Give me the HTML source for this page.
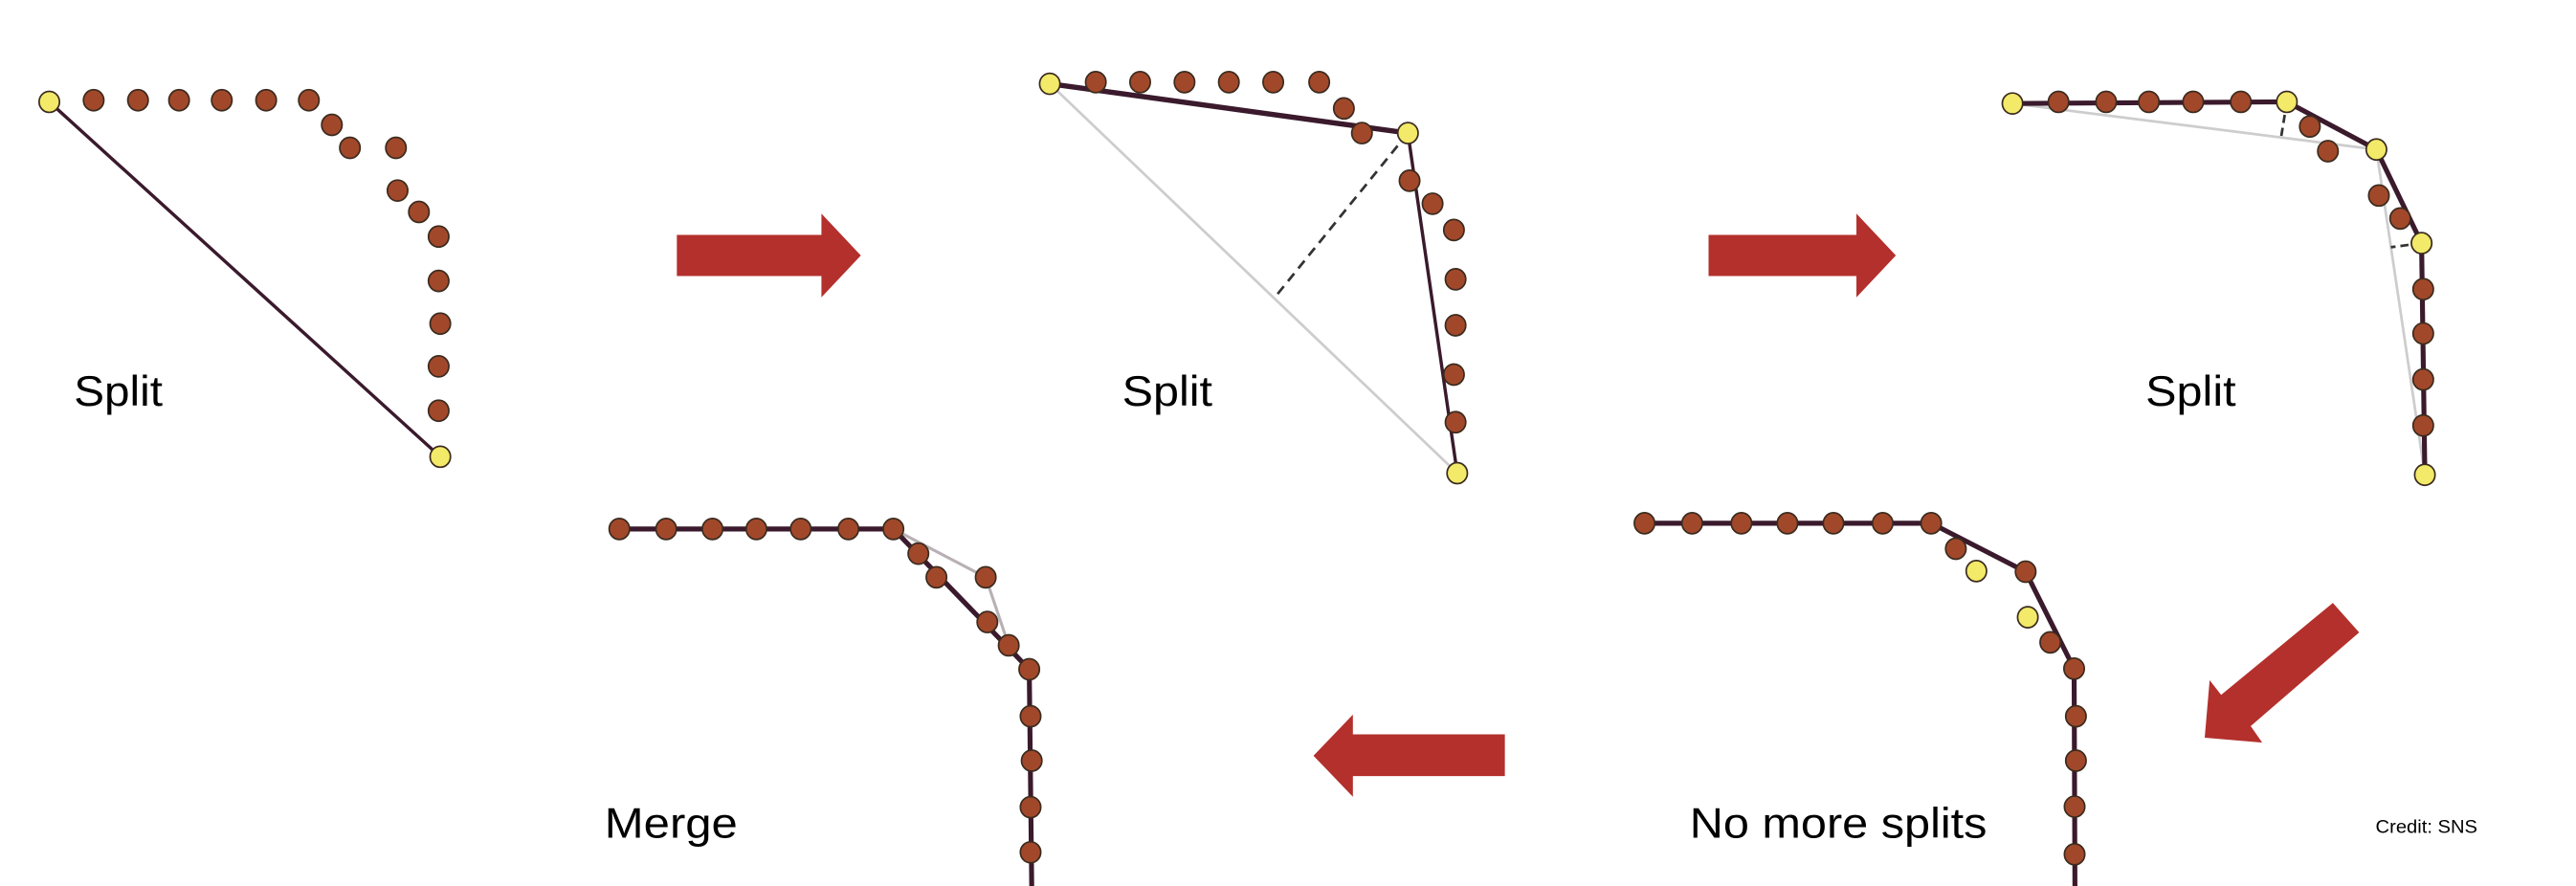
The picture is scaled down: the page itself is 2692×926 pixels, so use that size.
<!DOCTYPE html>
<html><head><meta charset="utf-8"><style>
html,body{margin:0;padding:0;background:#fff;}
svg{display:block;}
text{font-family:"Liberation Sans",sans-serif;fill:#000;}
</style></head>
<body>
<svg id="fig" width="2692" height="926" viewBox="0 0 1568 539.3" preserveAspectRatio="none" xmlns="http://www.w3.org/2000/svg">
<g id="lines"></g>
<g id="dots"></g>
<g id="labels">
<text x="45" y="247" font-size="26" textLength="54" lengthAdjust="spacingAndGlyphs">Split</text>
<text x="683" y="247" font-size="26" textLength="55" lengthAdjust="spacingAndGlyphs">Split</text>
<text x="1306" y="247" font-size="26" textLength="55" lengthAdjust="spacingAndGlyphs">Split</text>
<text x="368" y="510" font-size="26" textLength="81" lengthAdjust="spacingAndGlyphs">Merge</text>
<text x="1028.5" y="510" font-size="26" textLength="181" lengthAdjust="spacingAndGlyphs">No more splits</text>
<text x="1446" y="507" font-size="11.5" textLength="62" lengthAdjust="spacingAndGlyphs">Credit: SNS</text>
</g>
<g id="arrows" fill="#b3302c">
<polygon points="412,143 500,143 500,130 524,155.5 500,181 500,168 412,168"/>
<polygon points="1040,143 1130,143 1130,130 1154,155.5 1130,181 1130,168 1040,168"/>
<polygon points="1420,367 1436,385 1370,442 1377,452 1342,449 1345,414 1352,423"/>
<polygon points="916,447 823.5,447 823.5,435 799.5,460 823.5,485 823.5,472.4 916,472.4"/>
</g>
</svg>
<script>
// Panel points (brown = candidate points, yellow = retained vertices)
const p1Brown = [[57,61],[84,61],[109,61],[135,61],[162,61],[188,61],[202,76],[213,90],[241,90],[242,116],[255,129],[267,144],[267,171],[268,197],[267,223],[267,250]];
const p1Yellow = [[30,62],[268,278]];
const p2Brown = [[667,50],[694,50],[721,50],[748,50],[775,50],[803,50],[818,66],[829,81],[858,110],[872,124],[885,140],[886,170],[886,198],[885,228],[886,257]];
const p2Yellow = [[639,51],[857,81],[887,288]];
const p3Brown = [[1253,62],[1282,62],[1308,62],[1335,62],[1364,62],[1406,77],[1417,92],[1448,119],[1461,133],[1475,176],[1475,203],[1475,231],[1475,259]];
const p3Yellow = [[1225,63],[1392,62],[1446.5,91],[1474,148],[1476,289]];
const p4Brown = [[1001,318.5],[1030,318.5],[1060,318.5],[1088,318.5],[1116,318.5],[1146,318.5],[1175.5,318.5],[1190.5,334],[1233,348],[1248,391],[1262.5,407],[1263.6,436],[1263.6,463],[1262.8,491],[1262.8,520]];
const p4Yellow = [[1203,347.6],[1234.3,375.7]];
const p5Brown = [[377,322],[405.5,322],[433.7,322],[460.4,322],[487.4,322],[516.4,322],[543.8,322],[559,337],[570,351.4],[600,351.4],[601,378.6],[614,392.8],[626.5,407.4],[627.3,436],[628,463],[627.3,491.3],[627.3,518.8]];

const NS = "http://www.w3.org/2000/svg";
const L = document.getElementById('lines');
const D = document.getElementById('dots');
function line(pts, stroke, w, name, dash){
  const el = document.createElementNS(NS,'polyline');
  el.setAttribute('points', pts.map(p=>p.join(',')).join(' '));
  el.setAttribute('fill','none');
  el.setAttribute('stroke',stroke);
  el.setAttribute('stroke-width',w);
  if(dash) el.setAttribute('stroke-dasharray',dash);
  
  
  L.appendChild(el);
}
function dots(pts, fill, name){
  pts.forEach(p=>{
    const c = document.createElementNS(NS,'ellipse');
    c.setAttribute('cx',p[0]); c.setAttribute('cy',p[1]);
    c.setAttribute('rx',6.2); c.setAttribute('ry',6.4);
    c.setAttribute('fill',fill);
    c.setAttribute('stroke','#3b2b1f');
    c.setAttribute('stroke-width',1);
    
    
    D.appendChild(c);
  });
}
const DARK = '#3a1a2c', GRAY = '#cdcdcd';
// panel 1
line([p1Yellow[0],p1Yellow[1]], DARK, 2, 'panel1-segment');
// panel 2
line([p2Yellow[0],p2Yellow[2]], GRAY, 1.6, 'panel2-old-segment');
line([p2Yellow[1],[776,181]], '#333', 1.6, 'panel2-distance', '6,4');
line([p2Yellow[0],p2Yellow[1]], DARK, 3.2, 'panel2-segment-a');
line([p2Yellow[1],p2Yellow[2]], DARK, 2, 'panel2-segment-b');
// panel 3
line([p3Yellow[0],p3Yellow[2]], GRAY, 1.6, 'panel3-old-segment-a');
line([p3Yellow[2],p3Yellow[4]], GRAY, 1.6, 'panel3-old-segment-b');
line([p3Yellow[1],[1388.5,83.5]], '#333', 1.6, 'panel3-distance-a', '5,3');
line([p3Yellow[3],[1455.3,150.5]], '#333', 1.6, 'panel3-distance-b', '5,3');
line(p3Yellow, DARK, 3, 'panel3-polyline');
// panel 4 (no more splits)
line([[1001,318.5],[1175.5,318.5],[1233,348],[1262.5,407],[1263,539.3]], DARK, 3, 'panel4-polyline');
// panel 5 (merge)
line([[543.8,322],[600,351.4],[614,392.8],[626.5,407.4]], '#b8b0b4', 1.8, 'panel5-old-polyline');
line([[377,322],[543.8,322],[626.5,407.4],[628,539.3]], DARK, 3, 'panel5-polyline');

dots(p1Brown,'#a2482a','point'); dots(p1Yellow,'#f2ea68','vertex');
dots(p2Brown,'#a2482a','point'); dots(p2Yellow,'#f2ea68','vertex');
dots(p3Brown,'#a2482a','point'); dots(p3Yellow,'#f2ea68','vertex');
dots(p4Brown,'#a2482a','point'); dots(p4Yellow,'#f2ea68','vertex');
dots(p5Brown,'#a2482a','point');
</script>
</body></html>
